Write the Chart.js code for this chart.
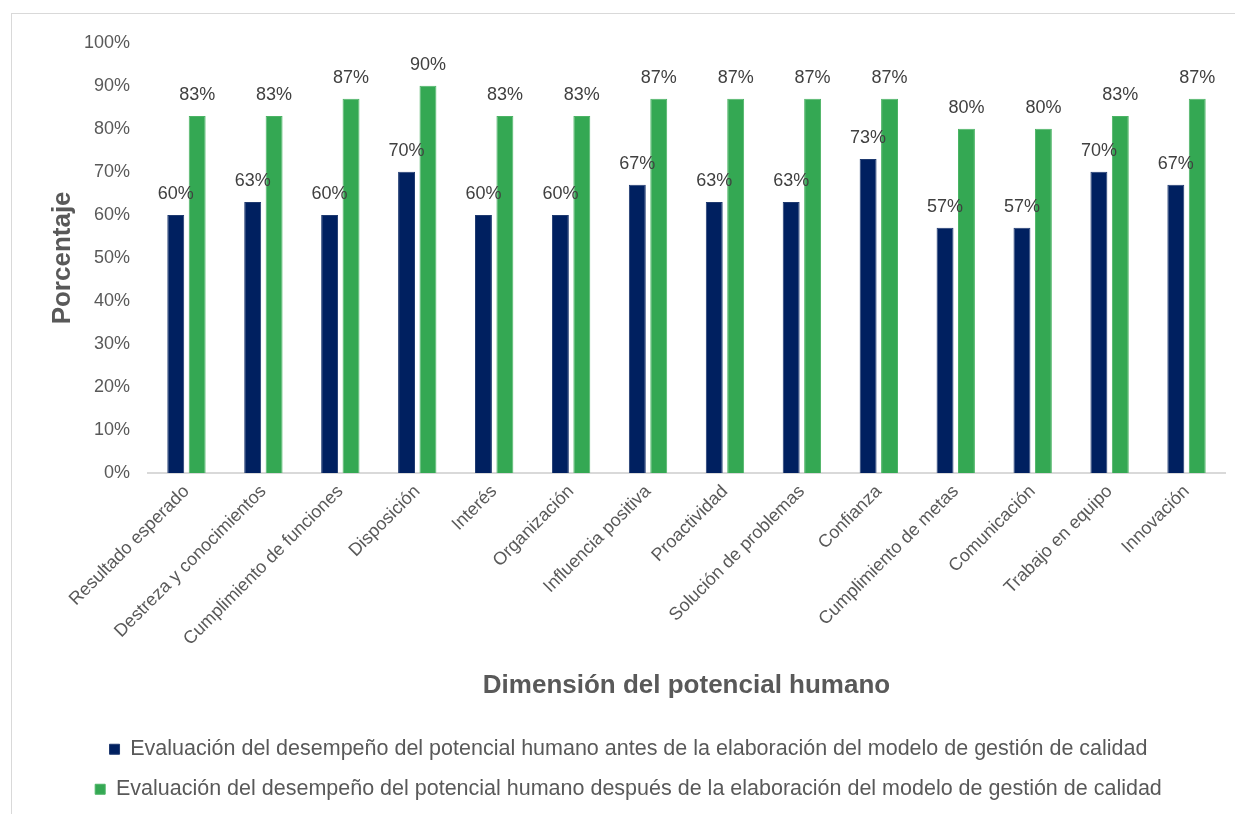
<!DOCTYPE html>
<html>
<head>
<meta charset="utf-8">
<script src="https://cdn.jsdelivr.net/npm/chart.js@4"></script>
<style>
  html, body { margin: 0; padding: 0; background: #fff; overflow: hidden; }
  #frame {
    position: absolute; left: 11px; top: 13px;
    width: 1245px; height: 820px;
    border-left: 1px solid #d9d9d9; border-top: 1px solid #d9d9d9;
  }
  #frame canvas { position: absolute; left: 0; top: 0; }
</style>
</head>
<body>
<div id="frame"><canvas id="potencialChart" width="1245" height="796"></canvas></div>
<script>
const dimensiones = [
    'Resultado esperado',
    'Destreza y conocimientos',
    'Cumplimiento de funciones',
    'Disposición',
    'Interés',
    'Organización',
    'Influencia positiva',
    'Proactividad',
    'Solución de problemas',
    'Confianza',
    'Cumplimiento de metas',
    'Comunicación',
    'Trabajo en equipo',
    'Innovación'
];
const antes = [60, 63, 60, 70, 60, 60, 67, 63, 63, 73, 57, 57, 70, 67];
const despues = [83, 83, 87, 90, 83, 83, 87, 87, 87, 87, 80, 80, 83, 87];
const serieNombres = [
    'Evaluación del desempeño del potencial humano antes de la elaboración del modelo de gestión de calidad',
    'Evaluación del desempeño del potencial humano después de la elaboración del modelo de gestión de calidad'
];

const fuente = 'Arial, "Liberation Sans", sans-serif';

// percentage written above each bar
const etiquetas = {
    id: 'etiquetas',
    afterDatasetsDraw(chart) {
        const c = chart.ctx;
        c.save();
        c.font = '18px ' + fuente;
        c.fillStyle = '#404040';
        c.textAlign = 'center';
        c.textBaseline = 'middle';
        chart.data.datasets.forEach((ds, i) => {
            chart.getDatasetMeta(i).data.forEach((bar, j) => {
                c.fillText(ds.data[j] + '%', bar.x, bar.y - 21);
            });
        });
        c.restore();
    }
};

new Chart(document.getElementById('potencialChart'), {
    type: 'bar',
    data: {
        labels: dimensiones,
        datasets: [{
            label: serieNombres[0],
            data: antes,
            backgroundColor: '#002060',
            borderColor: '#1f3a70',
            borderWidth: 1,
            categoryPercentage: 0.557,
            barPercentage: 0.79
        }, {
            label: serieNombres[1],
            data: despues,
            backgroundColor: '#34a853',
            borderColor: '#4cb465',
            borderWidth: 1,
            categoryPercentage: 0.557,
            barPercentage: 0.79
        }]
    },
    options: {
        responsive: false,
        animation: false,
        layout: { padding: { left: 20, right: 32, top: 23, bottom: 0 } },
        scales: {
            x: {
                grid: { display: false, drawTicks: false },
                border: { color: '#d9d9d9', width: 2 },
                ticks: {
                    color: '#595959',
                    font: { size: 18, family: fuente },
                    minRotation: 45,
                    maxRotation: 45,
                    padding: 8
                },
                title: {
                    display: true,
                    text: 'Dimensión del potencial humano',
                    color: '#595959',
                    font: { size: 26, weight: 'bold', family: fuente },
                    padding: { top: 12, bottom: 19 }
                },
                // rotated first label may hang past the y axis
                afterFit(scale) {
                    scale.paddingLeft = 0;
                }
            },
            y: {
                min: 0,
                max: 100,
                grid: { display: false, drawTicks: false },
                border: { display: false },
                ticks: {
                    stepSize: 10,
                    color: '#595959',
                    font: { size: 18, family: fuente },
                    padding: 18,
                    callback: v => v + '%'
                },
                title: {
                    display: true,
                    text: 'Porcentaje',
                    color: '#595959',
                    font: { size: 26, weight: 'bold', family: fuente },
                    padding: { top: 15, bottom: 7 }
                },
                afterFit(scale) {
                    scale.width = 116;
                }
            }
        },
        plugins: {
            legend: {
                display: true,
                position: 'bottom',
                labels: {
                    color: '#595959',
                    font: { size: 21.5, family: fuente },
                    boxWidth: 10,
                    boxHeight: 10,
                    padding: 18.5
                }
            },
            tooltip: { enabled: false }
        }
    },
    plugins: [etiquetas]
});
</script>
</body>
</html>
